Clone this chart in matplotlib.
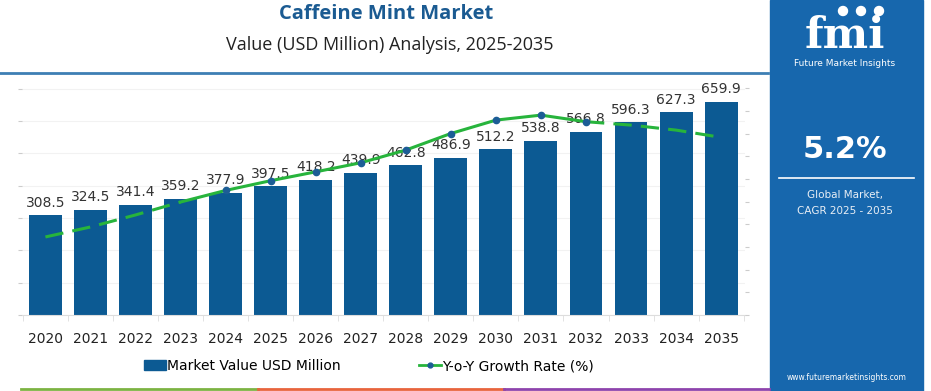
import numpy as np
import matplotlib.pyplot as plt
from matplotlib.lines import Line2D
from matplotlib.patches import Rectangle, Ellipse

# data
years = ['2020', '2021', '2022', '2023', '2024', '2025', '2026', '2027',
         '2028', '2029', '2030', '2031', '2032', '2033', '2034', '2035']
market_value = [308.5, 324.5, 341.4, 359.2, 377.9, 397.5, 418.2, 439.9,
                462.8, 486.9, 512.2, 538.8, 566.8, 596.3, 627.3, 659.9]
yoy_growth = [3.44, 3.88, 4.41, 4.98, 5.49, 5.92, 6.31, 6.71,
              7.27, 8.00, 8.59, 8.81, 8.52, 8.37, 8.15, 7.83]

bar_color = '#0c5a93'
panel_color = '#1767ad'
line_color = '#27b43c'
marker_color = '#1c5d96'

fig = plt.figure(figsize=(9.31, 3.91), dpi=100)
W, H = 931, 391

def fx(px):
    return px / W

def fy(py):
    return 1 - py / H

# ---- main chart
ax = fig.add_axes([fx(22), fy(315), fx(745) - fx(22), fy(87) - fy(315)])
x = np.arange(len(years))
bars = ax.bar(x, market_value, width=0.73, color=bar_color, zorder=2)
for xi, v in zip(x, market_value):
    ax.annotate(f'{v}', (xi, v), xytext=(0, 4), textcoords='offset points',
                ha='center', va='bottom', fontsize=10, color='#333333', zorder=5)

ax.set_xlim(-0.52, 15.53)
ax.set_ylim(0, 705)
ax.set_yticks(np.arange(0, 701, 100))
ax.set_yticklabels([])
ax.set_xticks(x)
ax.set_xticklabels(years, fontsize=10, color='#222222')
ax.set_xticks(np.arange(-0.5, 16, 1), minor=True)
ax.tick_params(axis='x', which='major', length=0, pad=12)
ax.tick_params(axis='x', which='minor', length=4, color='#dddddd')
ax.tick_params(axis='y', length=3, color='#cccccc')
ax.grid(axis='y', color='#f2f2f2', lw=0.8, zorder=0)
for s in ['top', 'right', 'left']:
    ax.spines[s].set_visible(False)
ax.spines['bottom'].set_color('#dddddd')

# growth line on a hidden secondary scale
ax2 = ax.twinx()
ax2.set_ylim(0, 10.05)
ax2.set_yticks(np.arange(0, 11, 1))
ax2.set_yticklabels([])
ax2.tick_params(axis='y', length=3, color='#cccccc')
for s in ax2.spines.values():
    s.set_visible(False)

ax2.plot(x[:4], yoy_growth[:4], color=line_color, lw=2.2, ls=(0, (6, 3)), zorder=4)
ax2.plot(x[3:13], yoy_growth[3:13], color=line_color, lw=2.2, zorder=4)
ax2.plot(x[12:], yoy_growth[12:], color=line_color, lw=2.2, ls=(0, (6, 3)), zorder=4)
ax2.plot(x[4:13], yoy_growth[4:13], ls='none', marker='o', ms=4.5,
         color=marker_color, zorder=5)

# legend
handles = [Rectangle((0, 0), 1, 1, color=bar_color),
           Line2D([0], [0], color=line_color, lw=2, marker='o', ms=3.5,
                  markerfacecolor=marker_color, markeredgecolor=marker_color)]
fig.legend(handles, ['Market Value USD Million', 'Y-o-Y Growth Rate (%)'],
           loc='center', bbox_to_anchor=(fx(369), fy(366)), ncol=2, frameon=False,
           fontsize=10, columnspacing=5.6, handlelength=1.6, handletextpad=0.1)

# ---- header
fig.text(fx(386), fy(14), 'Caffeine Mint Market', ha='center', va='center',
         fontsize=14.5, fontweight='bold', color='#1b5b92', family='Open Sans')
fig.text(fx(390), fy(45), 'Value (USD Million) Analysis, 2025-2035', ha='center',
         va='center', fontsize=13, color='#222222', family='Open Sans')
fig.add_artist(Line2D([0, fx(768)], [fy(73), fy(73)], color='#3d7fb4', lw=2))

# bottom colour strip
for x0, x1, c in [(21, 258, '#7cb342'), (258, 504, '#e8643c'), (504, 769, '#8e44ad')]:
    fig.add_artist(Line2D([fx(x0), fx(x1)], [fy(389), fy(389)], color=c, lw=2))

# ---- right panel
fig.add_artist(Rectangle((fx(770), 0), fx(923) - fx(770), 1, color=panel_color,
                         transform=fig.transFigure, zorder=0))
fig.text(fx(845), fy(36), 'fmi', ha='center', va='center', fontsize=31,
         fontweight='bold', color='white', family='DejaVu Serif')
for yy in np.arange(23, 52, 4):
    fig.add_artist(Line2D([fx(790), fx(900)], [fy(yy), fy(yy)], color=panel_color, lw=0.7))
for cx in [843, 861, 879]:
    fig.add_artist(Ellipse((fx(cx), fy(11)), 9 / W, 9 / H, color='white',
                           transform=fig.transFigure))
fig.text(fx(845), fy(63), 'Future Market Insights', ha='center', va='center',
         fontsize=6.5, color='white')
fig.text(fx(845), fy(149), '5.2%', ha='center', va='center', fontsize=22,
         fontweight='bold', color='white')
fig.add_artist(Line2D([fx(779), fx(914)], [fy(178), fy(178)], color='white', lw=1.2))
fig.text(fx(845), fy(195), 'Global Market,', ha='center', va='center',
         fontsize=7.5, color='#e8eef5')
fig.text(fx(845), fy(211), 'CAGR 2025 - 2035', ha='center', va='center',
         fontsize=7.5, color='#e8eef5')
fig.text(fx(847), fy(378), 'www.futuremarketinsights.com', ha='center', va='center',
         fontsize=5.5, color='white')

fig.savefig('out.png', dpi=100)
